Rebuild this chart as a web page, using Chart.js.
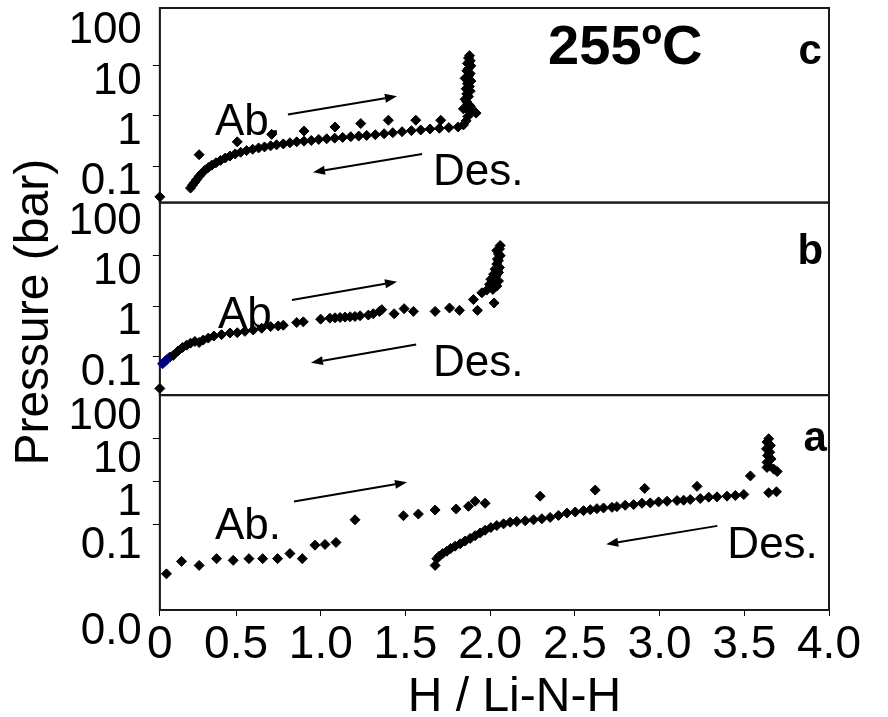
<!DOCTYPE html>
<html>
<head>
<meta charset="utf-8">
<script src="https://cdn.jsdelivr.net/npm/chart.js@4.4.1/dist/chart.umd.min.js"></script>
<style>
  html, body { margin: 0; padding: 0; background: #fff; }
  #wrap { width: 888px; height: 717px; }
</style>
</head>
<body>
<div id="wrap"><canvas id="pct"></canvas></div>
<script>
// PCT isotherms at 255 ºC, three cycles stacked (c on top, a at the bottom)
// values: [H / Li-N-H, pressure in bar]

// ── panel c ──────────────────────────────
const cAbs = [[0.05,0.0247],[0.282,0.170],[0.507,0.306],[0.710,0.431],[0.901,0.503],[1.084,0.605],
  [1.236,0.707],[1.399,0.824],[1.561,0.824],[1.708,0.824]];
const cDes = [[0.231,0.0369],[0.243,0.0424],[0.255,0.0479],[0.267,0.0543],[0.282,0.0633],[0.298,0.0728],
  [0.316,0.0836],[0.336,0.0947],[0.357,0.1055],[0.381,0.1175],[0.408,0.131],[0.436,0.146],[0.464,0.160],
  [0.495,0.176],[0.527,0.190],[0.562,0.205],[0.598,0.218],[0.633,0.232],[0.668,0.243],[0.704,0.255],
  [0.739,0.267],[0.779,0.279],[0.818,0.293],[0.858,0.306],[0.901,0.316],[0.944,0.326],[0.988,0.342],
  [1.035,0.352],[1.082,0.363],[1.129,0.375],[1.177,0.387],[1.224,0.399],[1.271,0.411],[1.322,0.424],
  [1.374,0.444],[1.425,0.465],[1.480,0.487],[1.535,0.511],[1.590,0.527],[1.645,0.552],[1.700,0.569],
  [1.756,0.587],[1.811,0.605],[1.842,0.664],[1.858,0.799],[1.868,0.977],[1.878,1.232],[1.886,1.483]];
const cStep = [[1.878,15.8],[1.872,14.2],[1.882,12.5],[1.866,11.1],[1.886,9.93],[1.872,8.78],[1.862,7.88],
  [1.882,6.96],[1.872,6.25],[1.852,5.61],[1.886,4.95],[1.866,4.38],[1.878,3.87],[1.858,3.47],[1.882,3.12],
  [1.862,2.75],[1.872,2.43],[1.852,2.15],[1.862,1.90],[1.878,1.63],[1.842,1.39],[1.897,1.23],[1.917,1.14]];

// ── panel b ──────────────────────────────
const bStart = [[0.066,0.0716],[0.080,0.0798],[0.093,0.0875],[0.109,0.0975]];
const bRun = [[0.05,0.0231],[0.129,0.105],[0.158,0.129],[0.184,0.151],[0.208,0.168],[0.231,0.184],
  [0.257,0.199],[0.282,0.190],[0.306,0.212],[0.336,0.232],[0.369,0.255],[0.414,0.271],[0.464,0.293],
  [0.507,0.297],[0.552,0.316],[0.601,0.336],[0.651,0.364],[0.704,0.393],[0.749,0.405],[0.779,0.418],
  [0.858,0.473],[0.897,0.488],[0.999,0.552],[1.054,0.578],[1.084,0.587],[1.114,0.596],[1.143,0.606],
  [1.173,0.615],[1.202,0.625],[1.232,0.644],[1.281,0.665],[1.310,0.707],[1.346,0.788],[1.360,0.852],
  [1.433,0.707],[1.492,0.892],[1.547,0.788],[1.675,0.788],[1.760,0.920],[1.819,0.826],[1.901,1.354],
  [1.925,0.826],[1.951,1.845],[1.980,2.089],[1.996,2.718],[2.023,1.160],[2.004,3.427],[2.020,4.322],
  [2.029,5.452],[2.039,6.877],[2.043,8.675],[2.049,10.94],[2.055,13.80],[2.059,16.11],[2.016,2.154],
  [2.039,2.515],[2.049,3.172],[2.035,4.0],[2.049,4.670],[2.055,5.891],[2.029,3.172],[2.043,5.07],
  [2.059,10.13],[2.049,8.03],[2.039,12.77]];

// ── panel a ──────────────────────────────
const aAbs = [[0.089,0.00694],[0.178,0.01355],[0.282,0.0109],[0.385,0.01567],[0.483,0.0143],[0.576,0.01567],
  [0.657,0.01567],[0.745,0.01567],[0.818,0.02056],[0.891,0.01567],[0.966,0.0323],[1.025,0.0335],
  [1.090,0.0374],[1.202,0.1256],[1.488,0.1561],[1.576,0.1709],[1.675,0.2123],[1.799,0.2242],
  [1.872,0.2592],[1.911,0.340],[1.970,0.305],[2.295,0.446],[2.620,0.618],[2.912,0.676],[3.221,0.754],
  [3.536,1.321]];
const aStep = [[3.644,9.68],[3.634,8.08],[3.654,6.74],[3.631,5.62],[3.650,4.69],[3.638,3.92],[3.658,3.27],
  [3.634,2.73],[3.646,2.275],[3.674,1.898],[3.694,1.672],[3.634,2.078],[3.644,0.535],[3.690,0.564]];
const aDes = [[1.675,0.0109],[1.685,0.01567],[1.700,0.0181],[1.720,0.02056],[1.744,0.0233],[1.767,0.02697],
  [1.793,0.0306],[1.823,0.0348],[1.852,0.0402],[1.882,0.0464],[1.911,0.0537],[1.941,0.062],[1.970,0.0717],
  [2.004,0.0828],[2.039,0.0923],[2.079,0.1011],[2.118,0.1107],[2.157,0.1148],[2.207,0.119],[2.256,0.1256],
  [2.305,0.1327],[2.354,0.1426],[2.403,0.159],[2.453,0.1804],[2.502,0.1905],[2.551,0.2048],[2.591,0.2163],
  [2.630,0.2283],[2.669,0.2367],[2.719,0.2454],[2.748,0.2544],[2.797,0.2736],[2.847,0.2837],[2.896,0.305],
  [2.945,0.3106],[2.994,0.328],[3.044,0.340],[3.103,0.3525],[3.142,0.359],[3.181,0.3722],[3.240,0.3929],
  [3.290,0.4224],[3.339,0.430],[3.398,0.446],[3.447,0.4624],[3.497,0.4884]];

// ── axes ─────────────────────────────────
const xRange = [0.05, 4.0];
const xTicks = [0.05, 0.5, 1.0, 1.5, 2.0, 2.5, 3.0, 3.5, 4.0];
const xTickLabels = ['0', '0.5', '1.0', '1.5', '2.0', '2.5', '3.0', '3.5', '4.0'];
const yTicks = [0.1, 1, 10, 100];
const yTicksA = [0.001, 0.1, 1, 10, 100];
const yTickLabels = { 0.001: '0.0', 0.1: '0.1', 1: '1', 10: '10', 100: '100' };
const rangeC = [0.019, 140];
const rangeB = [0.017, 115];
const rangeA = [0.001, 100];

// ── annotations (data coordinates of each panel) ──
const notesText = [
  { axis: 'yc', text: 'Ab.',   x: 0.375, y: 0.424, bold: false, size: 44 },
  { axis: 'yc', text: 'Des.',  x: 1.663, y: 0.0417, bold: false, size: 44 },
  { axis: 'yc', text: '255ºC', x: 2.342, y: 10.9, bold: true, size: 56 },
  { axis: 'yc', text: 'c',     x: 3.820, y: 10.9, bold: true, size: 42 },
  { axis: 'yb', text: 'Ab.',   x: 0.393, y: 0.3635, bold: false, size: 44 },
  { axis: 'yb', text: 'Des.',  x: 1.663, y: 0.0410, bold: false, size: 44 },
  { axis: 'yb', text: 'b',     x: 3.814, y: 6.77, bold: true, size: 42 },
  { axis: 'ya', text: 'Ab.',   x: 0.375, y: 0.0448, bold: false, size: 44 },
  { axis: 'ya', text: 'Des.',  x: 3.400, y: 0.01595, bold: false, size: 44 },
  { axis: 'ya', text: 'a',     x: 3.849, y: 5.04, bold: true, size: 42 }
];
const notesArrows = [
  { axis: 'yc', from: [0.806, 1.072], to: [1.450, 2.47] },
  { axis: 'yc', from: [1.598, 0.1757], to: [0.954, 0.0762] },
  { axis: 'yb', from: [0.830, 1.334], to: [1.450, 3.075] },
  { axis: 'yb', from: [1.563, 0.1729], to: [0.942, 0.075] },
  { axis: 'ya', from: [0.842, 0.334], to: [1.509, 0.937] },
  { axis: 'ya', from: [3.341, 0.0907], to: [2.685, 0.0341] }
];

const FONT = "'Liberation Sans', Arial, sans-serif";
const toXY = arr => arr.map(p => ({ x: p[0], y: p[1] }));

function series(label, arr, axis, color) {
  return {
    label,
    data: toXY(arr),
    yAxisID: axis,
    pointStyle: 'rectRot',
    pointRadius: 5,
    pointBorderWidth: 1,
    backgroundColor: color || '#000',
    borderColor: color || '#000',
    showLine: false,
    clip: false
  };
}

function yAxis(range, ticks, weight, offset) {
  return {
    type: 'logarithmic',
    position: 'left',
    stack: 'pressure',
    stackWeight: weight,
    min: range[0],
    max: range[1],
    afterBuildTicks: axis => { axis.ticks = ticks.map(v => ({ value: v })); },
    // labels are pushed below their ticks, so no extra room is needed above/below the stack
    afterFit: axis => { axis.paddingTop = 0; axis.paddingBottom = 0; },
    ticks: {
      color: '#000',
      font: { family: FONT, size: 44, lineHeight: 1 },
      padding: 11,
      labelOffset: offset,
      autoSkip: false,
      callback: v => yTickLabels[v] || ''
    },
    grid: {
      drawOnChartArea: false,
      tickLength: 7,
      color: ctx => (ctx.tick && (ctx.tick.value >= 100 || ctx.tick.value <= 0.001)) ? 'rgba(0,0,0,0)' : '#000'
    },
    border: { display: true, color: '#222', width: 1.5 }
  };
}

const panelFrames = {
  id: 'panelFrames',
  beforeDatasetsDraw(chart) {
    const { ctx, chartArea } = chart;
    ctx.save();
    ctx.strokeStyle = '#1a1a1a';
    ctx.lineWidth = 2;
    ['yc', 'yb', 'ya'].forEach(id => {
      const s = chart.scales[id];
      ctx.strokeRect(chartArea.left, s.top, chartArea.right - chartArea.left, s.bottom - s.top);
    });
    ctx.restore();
  }
};

const panelNotes = {
  id: 'panelNotes',
  afterDatasetsDraw(chart) {
    const { ctx } = chart;
    const xs = chart.scales.x;
    ctx.save();
    ctx.fillStyle = '#000';
    ctx.strokeStyle = '#000';
    ctx.textAlign = 'left';
    ctx.textBaseline = 'alphabetic';
    notesText.forEach(t => {
      const ys = chart.scales[t.axis];
      ctx.font = (t.bold ? 'bold ' : '') + t.size + 'px ' + FONT;
      ctx.fillText(t.text, xs.getPixelForValue(t.x), ys.getPixelForValue(t.y));
    });
    notesArrows.forEach(a => {
      const ys = chart.scales[a.axis];
      const x0 = xs.getPixelForValue(a.from[0]), y0 = ys.getPixelForValue(a.from[1]);
      const x1 = xs.getPixelForValue(a.to[0]), y1 = ys.getPixelForValue(a.to[1]);
      const ang = Math.atan2(y1 - y0, x1 - x0);
      const head = 12, half = 4.5;
      const bx = x1 - head * Math.cos(ang), by = y1 - head * Math.sin(ang);
      ctx.lineWidth = 2;
      ctx.beginPath();
      ctx.moveTo(x0, y0);
      ctx.lineTo(bx, by);
      ctx.stroke();
      ctx.beginPath();
      ctx.moveTo(x1, y1);
      ctx.lineTo(bx + half * Math.sin(ang), by - half * Math.cos(ang));
      ctx.lineTo(bx - half * Math.sin(ang), by + half * Math.cos(ang));
      ctx.closePath();
      ctx.fill();
    });
    ctx.restore();
  }
};

new Chart(document.getElementById('pct'), {
  type: 'scatter',
  data: {
    datasets: [
      series('c absorption', cAbs, 'yc'),
      series('c desorption', cDes, 'yc'),
      series('c step', cStep, 'yc'),
      series('b', bRun, 'yb'),
      series('b start', bStart, 'yb', '#000080'),
      series('a absorption', aAbs, 'ya'),
      series('a desorption', aDes, 'ya'),
      series('a step', aStep, 'ya')
    ]
  },
  options: {
    responsive: true,
    maintainAspectRatio: false,
    animation: false,
    devicePixelRatio: 1,
    layout: { padding: { left: 26, top: 8, right: 59, bottom: 0 } },
    plugins: { legend: { display: false }, tooltip: { enabled: false } },
    scales: {
      x: {
        type: 'linear',
        position: 'bottom',
        min: xRange[0],
        max: xRange[1],
        afterBuildTicks: axis => { axis.ticks = xTicks.map(v => ({ value: v })); },
        ticks: {
          color: '#000',
          font: { family: "'Liberation Sans Narrow', " + FONT, size: 46, lineHeight: 1 },
          padding: 6,
          maxRotation: 0,
          autoSkip: false,
          callback: (v, i) => xTickLabels[i]
        },
        grid: { drawOnChartArea: false, tickLength: 6, color: '#000' },
        border: { display: true, color: '#333', width: 1.5 },
        title: {
          display: true,
          text: '   H / Li-N-H',
          color: '#000',
          font: { family: FONT, size: 48, lineHeight: 1 },
          padding: { top: 0, bottom: -5 }
        }
      },
      ya: yAxis(rangeA, yTicksA, 212, 22),
      yb: Object.assign(yAxis(rangeB, yTicks, 190, 16), {
        title: {
          display: true,
          text: 'Pressure (bar)  ',
          color: '#000',
          font: { family: FONT, size: 48, lineHeight: 1 },
          padding: { top: -15, bottom: 0 }
        }
      }),
      yc: yAxis(rangeC, yTicks, 192, 16)
    }
  },
  plugins: [panelFrames, panelNotes]
});
</script>
</body>
</html>
